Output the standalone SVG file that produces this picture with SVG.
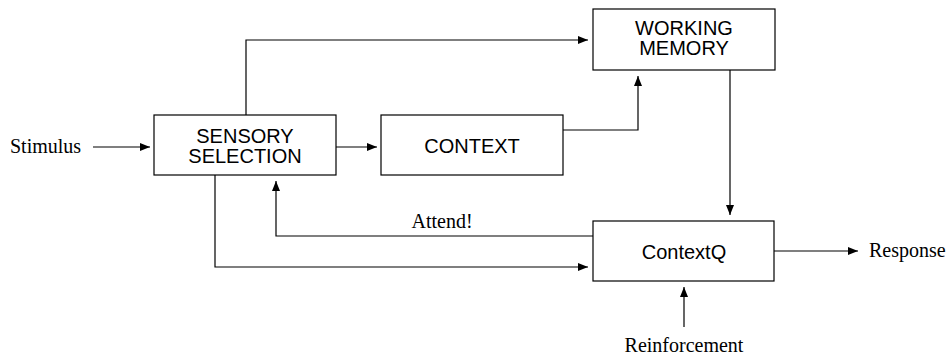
<svg xmlns="http://www.w3.org/2000/svg" width="951" height="359" viewBox="0 0 951 359">
<style>
.box{fill:#fff;stroke:#000;stroke-width:1.2}
.lbl{font-family:"Liberation Sans",Arial,sans-serif;font-size:20px;text-anchor:middle;fill:#000}
.ser{font-family:"Liberation Serif","Times New Roman",serif;font-size:20px;fill:#000}
.c{fill:none;stroke:#000;stroke-width:1.2}
</style>
<defs>
<marker id="ah" markerWidth="10" markerHeight="8" refX="10" refY="4" orient="auto" markerUnits="userSpaceOnUse">
<path d="M0,0 L10,4 L0,8 Z" fill="#000"/>
</marker>
</defs>
<rect width="951" height="359" fill="#fff"/>
<g id="connectors">
<path class="c" d="M93,147 H150" marker-end="url(#ah)"/>
<path class="c" d="M336,147 H377" marker-end="url(#ah)"/>
<path class="c" d="M246,115 V40 H588" marker-end="url(#ah)"/>
<path class="c" d="M563,130 H638 V76" marker-end="url(#ah)"/>
<path class="c" d="M730,70 V215" marker-end="url(#ah)"/>
<path class="c" d="M593,236 H276 V181" marker-end="url(#ah)"/>
<path class="c" d="M215,175 V267 H588" marker-end="url(#ah)"/>
<path class="c" d="M774,251 H858" marker-end="url(#ah)"/>
<path class="c" d="M684,327 V287" marker-end="url(#ah)"/>
<text class="ser" x="442" y="228" text-anchor="middle">Attend!</text>
</g>
<g id="stimulus"><text class="ser" x="10" y="153">Stimulus</text></g>
<g id="sensory-selection">
<rect class="box" x="154" y="115" width="182" height="60"/>
<text class="lbl" x="245" y="143">SENSORY</text>
<text class="lbl" x="245" y="163">SELECTION</text>
</g>
<g id="context">
<rect class="box" x="381" y="115" width="182" height="60"/>
<text class="lbl" x="472" y="153">CONTEXT</text>
</g>
<g id="working-memory">
<rect class="box" x="593" y="9" width="182" height="61"/>
<text class="lbl" x="684" y="35">WORKING</text>
<text class="lbl" x="684" y="55">MEMORY</text>
</g>
<g id="contextq">
<rect class="box" x="593" y="221" width="181" height="60"/>
<text class="lbl" x="684" y="259">ContextQ</text>
</g>
<g id="response"><text class="ser" x="869" y="257">Response</text></g>
<g id="reinforcement"><text class="ser" x="684" y="352" text-anchor="middle">Reinforcement</text></g>
</svg>
